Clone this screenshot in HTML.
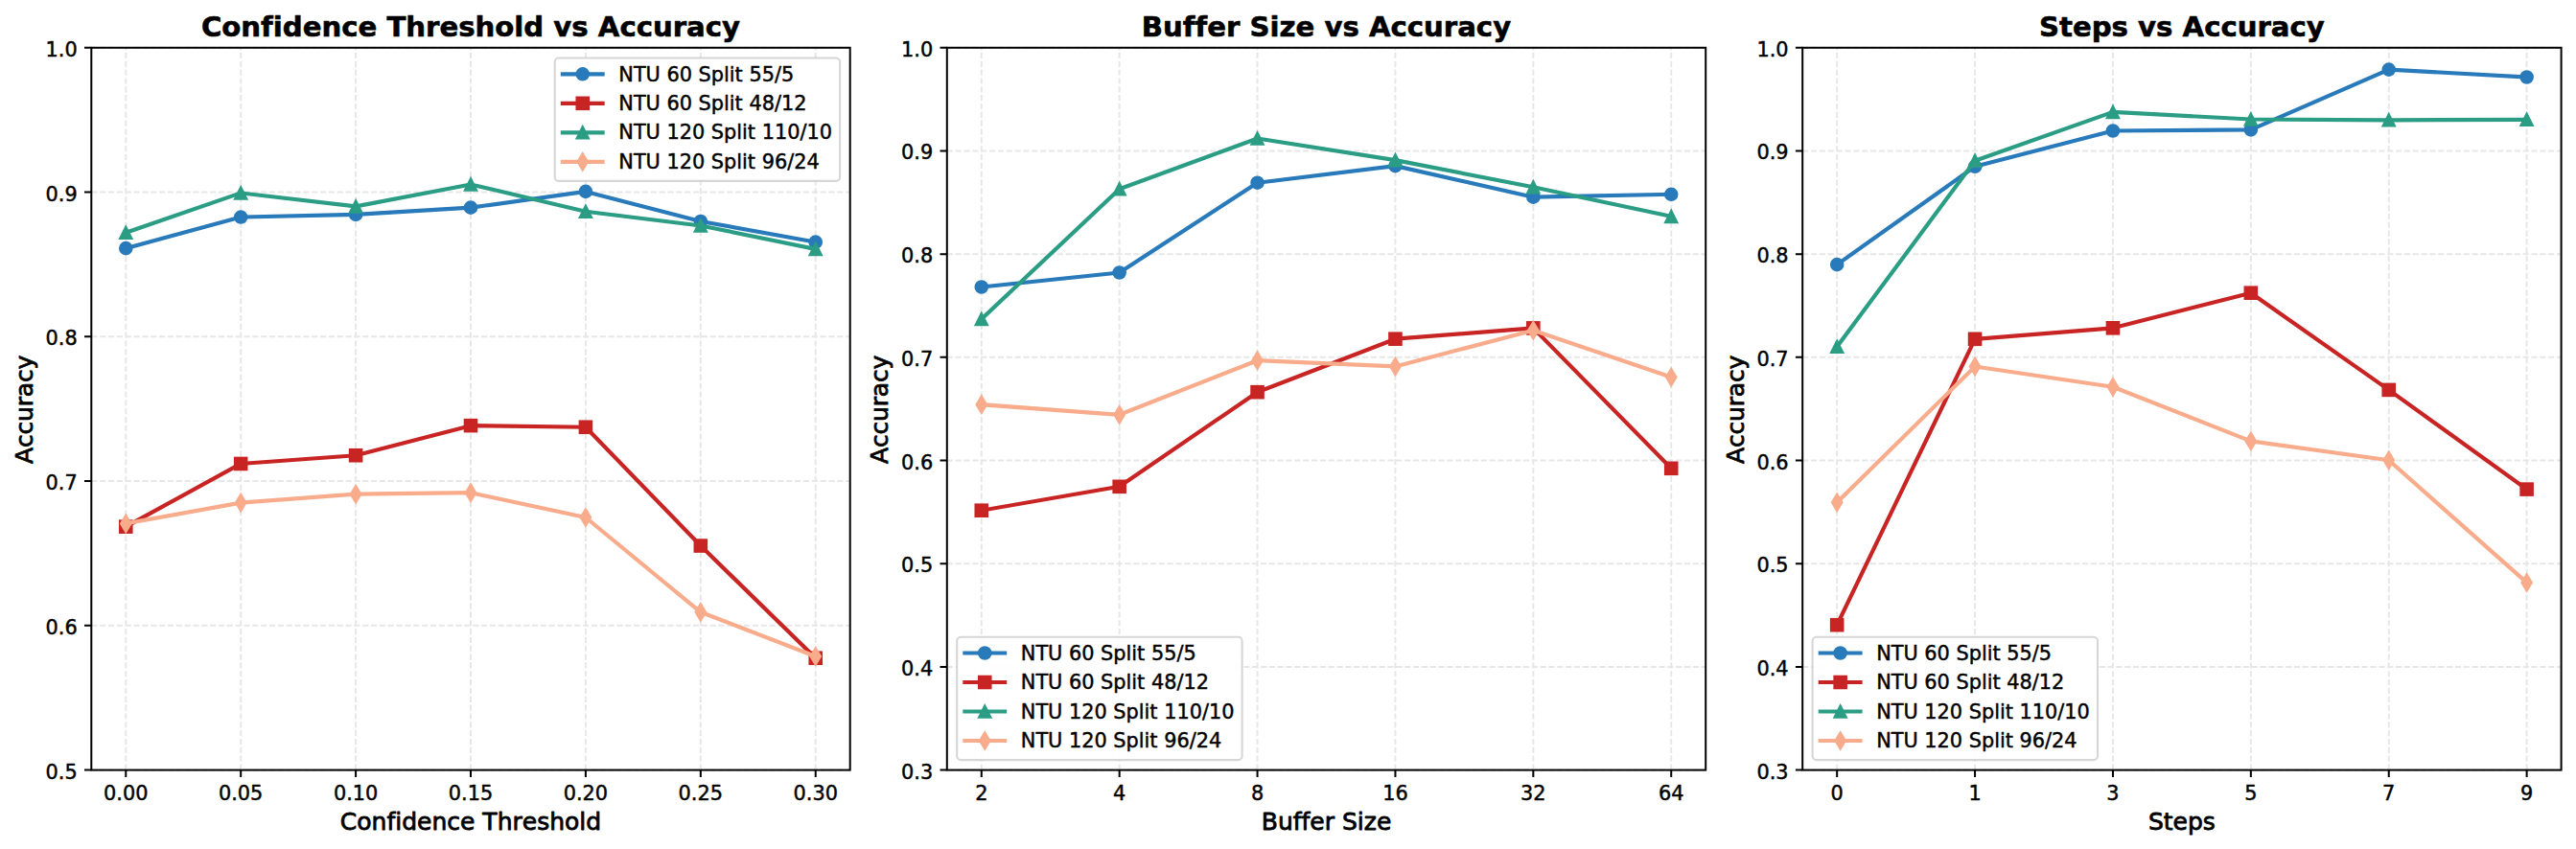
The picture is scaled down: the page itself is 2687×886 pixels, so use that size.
<!DOCTYPE html>
<html lang="en">
<head>
<meta charset="utf-8">
<title>Accuracy plots</title>
<style>
html,body{margin:0;padding:0;background:#fff;}
body{width:2687px;height:886px;overflow:hidden;}
svg{display:block;}
text{stroke:#000;stroke-width:.45px;stroke-linejoin:round;font-variant-ligatures:none;font-feature-settings:'liga' 0,'clig' 0;font-kerning:none;}
.tt{stroke-width:.6px;}
.al{stroke-width:.8px;}
</style>
</head>
<body>
<svg width="2687" height="886" viewBox="0 0 2687 886" font-family="'DejaVu Sans', 'Liberation Sans', sans-serif" fill="#000">
<rect width="2687" height="886" fill="#fff"/>
<g>
<path d="M131.27 803.6V49.8M251.18 803.6V49.8M371.09 803.6V49.8M491 803.6V49.8M610.91 803.6V49.8M730.82 803.6V49.8M850.73 803.6V49.8M95.3 803.6H886.7M95.3 652.84H886.7M95.3 502.08H886.7M95.3 351.32H886.7M95.3 200.56H886.7M95.3 49.8H886.7" fill="none" stroke="#b0b0b0" stroke-opacity="0.3" stroke-width="2" stroke-dasharray="6.17 2.67"/>
<polyline points="131.27,259.15 251.18,226.55 371.09,223.95 491,216.65 610.91,199.9 730.82,230.95 850.73,252.65" fill="none" stroke="#287ABA" stroke-width="4.17" stroke-linejoin="round" stroke-linecap="square"/>
<circle cx="131.27" cy="259.15" r="6.25" fill="#287ABA" stroke="#287ABA" stroke-width="2.08" stroke-linejoin="miter"/>
<circle cx="251.18" cy="226.55" r="6.25" fill="#287ABA" stroke="#287ABA" stroke-width="2.08" stroke-linejoin="miter"/>
<circle cx="371.09" cy="223.95" r="6.25" fill="#287ABA" stroke="#287ABA" stroke-width="2.08" stroke-linejoin="miter"/>
<circle cx="491" cy="216.65" r="6.25" fill="#287ABA" stroke="#287ABA" stroke-width="2.08" stroke-linejoin="miter"/>
<circle cx="610.91" cy="199.9" r="6.25" fill="#287ABA" stroke="#287ABA" stroke-width="2.08" stroke-linejoin="miter"/>
<circle cx="730.82" cy="230.95" r="6.25" fill="#287ABA" stroke="#287ABA" stroke-width="2.08" stroke-linejoin="miter"/>
<circle cx="850.73" cy="252.65" r="6.25" fill="#287ABA" stroke="#287ABA" stroke-width="2.08" stroke-linejoin="miter"/>
<polyline points="131.27,549.65 251.18,483.95 371.09,475.25 491,444.15 610.91,445.75 730.82,569.55 850.73,686.75" fill="none" stroke="#C82423" stroke-width="4.17" stroke-linejoin="round" stroke-linecap="square"/>
<rect x="125.02" y="543.4" width="12.5" height="12.5" fill="#C82423" stroke="#C82423" stroke-width="2.08" stroke-linejoin="miter"/>
<rect x="244.93" y="477.7" width="12.5" height="12.5" fill="#C82423" stroke="#C82423" stroke-width="2.08" stroke-linejoin="miter"/>
<rect x="364.84" y="469" width="12.5" height="12.5" fill="#C82423" stroke="#C82423" stroke-width="2.08" stroke-linejoin="miter"/>
<rect x="484.75" y="437.9" width="12.5" height="12.5" fill="#C82423" stroke="#C82423" stroke-width="2.08" stroke-linejoin="miter"/>
<rect x="604.66" y="439.5" width="12.5" height="12.5" fill="#C82423" stroke="#C82423" stroke-width="2.08" stroke-linejoin="miter"/>
<rect x="724.57" y="563.3" width="12.5" height="12.5" fill="#C82423" stroke="#C82423" stroke-width="2.08" stroke-linejoin="miter"/>
<rect x="844.48" y="680.5" width="12.5" height="12.5" fill="#C82423" stroke="#C82423" stroke-width="2.08" stroke-linejoin="miter"/>
<polyline points="131.27,242.8 251.18,201.4 371.09,215.35 491,192.45 610.91,220.8 730.82,235.45 850.73,259.95" fill="none" stroke="#2A9D84" stroke-width="4.17" stroke-linejoin="round" stroke-linecap="square"/>
<path d="M131.27 236.55L125.02 249.05L137.52 249.05Z" fill="#2A9D84" stroke="#2A9D84" stroke-width="2.08" stroke-linejoin="miter"/>
<path d="M251.18 195.15L244.93 207.65L257.43 207.65Z" fill="#2A9D84" stroke="#2A9D84" stroke-width="2.08" stroke-linejoin="miter"/>
<path d="M371.09 209.1L364.84 221.6L377.34 221.6Z" fill="#2A9D84" stroke="#2A9D84" stroke-width="2.08" stroke-linejoin="miter"/>
<path d="M491 186.2L484.75 198.7L497.25 198.7Z" fill="#2A9D84" stroke="#2A9D84" stroke-width="2.08" stroke-linejoin="miter"/>
<path d="M610.91 214.55L604.66 227.05L617.16 227.05Z" fill="#2A9D84" stroke="#2A9D84" stroke-width="2.08" stroke-linejoin="miter"/>
<path d="M730.82 229.2L724.57 241.7L737.07 241.7Z" fill="#2A9D84" stroke="#2A9D84" stroke-width="2.08" stroke-linejoin="miter"/>
<path d="M850.73 253.7L844.48 266.2L856.98 266.2Z" fill="#2A9D84" stroke="#2A9D84" stroke-width="2.08" stroke-linejoin="miter"/>
<polyline points="131.27,546.4 251.18,524.6 371.09,515.7 491,514.2 610.91,540 730.82,638.8 850.73,685" fill="none" stroke="#F8AC8C" stroke-width="4.17" stroke-linejoin="round" stroke-linecap="square"/>
<path d="M131.27 537.56L136.58 546.4L131.27 555.24L125.97 546.4Z" fill="#F8AC8C" stroke="#F8AC8C" stroke-width="2.08" stroke-linejoin="miter"/>
<path d="M251.18 515.76L256.49 524.6L251.18 533.44L245.88 524.6Z" fill="#F8AC8C" stroke="#F8AC8C" stroke-width="2.08" stroke-linejoin="miter"/>
<path d="M371.09 506.86L376.39 515.7L371.09 524.54L365.79 515.7Z" fill="#F8AC8C" stroke="#F8AC8C" stroke-width="2.08" stroke-linejoin="miter"/>
<path d="M491 505.36L496.3 514.2L491 523.04L485.7 514.2Z" fill="#F8AC8C" stroke="#F8AC8C" stroke-width="2.08" stroke-linejoin="miter"/>
<path d="M610.91 531.16L616.21 540L610.91 548.84L605.61 540Z" fill="#F8AC8C" stroke="#F8AC8C" stroke-width="2.08" stroke-linejoin="miter"/>
<path d="M730.82 629.96L736.12 638.8L730.82 647.64L725.51 638.8Z" fill="#F8AC8C" stroke="#F8AC8C" stroke-width="2.08" stroke-linejoin="miter"/>
<path d="M850.73 676.16L856.03 685L850.73 693.84L845.42 685Z" fill="#F8AC8C" stroke="#F8AC8C" stroke-width="2.08" stroke-linejoin="miter"/>
<path d="M131.27 803.6v7.29M251.18 803.6v7.29M371.09 803.6v7.29M491 803.6v7.29M610.91 803.6v7.29M730.82 803.6v7.29M850.73 803.6v7.29M95.3 803.6h-7.29M95.3 652.84h-7.29M95.3 502.08h-7.29M95.3 351.32h-7.29M95.3 200.56h-7.29M95.3 49.8h-7.29" fill="none" stroke="#000" stroke-width="2"/>
<rect x="95.3" y="49.8" width="791.4" height="753.8" fill="none" stroke="#000" stroke-width="2" stroke-linejoin="miter"/>
<g font-size="20.83">
<text x="131.27" y="834.6" text-anchor="middle">0.00</text>
<text x="251.18" y="834.6" text-anchor="middle">0.05</text>
<text x="371.09" y="834.6" text-anchor="middle">0.10</text>
<text x="491" y="834.6" text-anchor="middle">0.15</text>
<text x="610.91" y="834.6" text-anchor="middle">0.20</text>
<text x="730.82" y="834.6" text-anchor="middle">0.25</text>
<text x="850.73" y="834.6" text-anchor="middle">0.30</text>
<text x="80.72" y="812.6" text-anchor="end">0.5</text>
<text x="80.72" y="661.84" text-anchor="end">0.6</text>
<text x="80.72" y="511.08" text-anchor="end">0.7</text>
<text x="80.72" y="360.32" text-anchor="end">0.8</text>
<text x="80.72" y="209.56" text-anchor="end">0.9</text>
<text x="80.72" y="58.8" text-anchor="end">1.0</text>
</g>
<text x="491" y="38" text-anchor="middle" font-size="29.17" font-weight="bold" class="tt">Confidence Threshold vs Accuracy</text>
<text x="491" y="866.1" text-anchor="middle" font-size="25" class="al">Confidence Threshold</text>
<text transform="translate(33.7 427.35) rotate(-90)" text-anchor="middle" font-size="25" class="al" textLength="113.3" lengthAdjust="spacing">Accuracy</text>
<rect x="578.7" y="60.5" width="297.4" height="128.4" rx="4.2" ry="4.2" fill="#fff" fill-opacity="0.9" stroke="#ccc" stroke-opacity="0.8" stroke-width="2.08"/>
<g font-size="20.83">
<path d="M586.9 77.3H628.6" stroke="#287ABA" stroke-width="4.17" stroke-linecap="square" fill="none"/>
<circle cx="607.75" cy="77.3" r="6.25" fill="#287ABA" stroke="#287ABA" stroke-width="2.08" stroke-linejoin="miter"/>
<text x="645.3" y="84.75">NTU 60 Split 55/5</text>
<path d="M586.9 107.8H628.6" stroke="#C82423" stroke-width="4.17" stroke-linecap="square" fill="none"/>
<rect x="601.5" y="101.55" width="12.5" height="12.5" fill="#C82423" stroke="#C82423" stroke-width="2.08" stroke-linejoin="miter"/>
<text x="645.3" y="115.1">NTU 60 Split 48/12</text>
<path d="M586.9 138.3H628.6" stroke="#2A9D84" stroke-width="4.17" stroke-linecap="square" fill="none"/>
<path d="M607.75 132.05L601.5 144.55L614 144.55Z" fill="#2A9D84" stroke="#2A9D84" stroke-width="2.08" stroke-linejoin="miter"/>
<text x="645.3" y="145.45">NTU 120 Split 110/10</text>
<path d="M586.9 168.8H628.6" stroke="#F8AC8C" stroke-width="4.17" stroke-linecap="square" fill="none"/>
<path d="M607.75 159.96L613.05 168.8L607.75 177.64L602.45 168.8Z" fill="#F8AC8C" stroke="#F8AC8C" stroke-width="2.08" stroke-linejoin="miter"/>
<text x="645.3" y="175.8">NTU 120 Split 96/24</text>
</g>
</g>
<g>
<path d="M1023.77 803.6V49.8M1167.66 803.6V49.8M1311.55 803.6V49.8M1455.45 803.6V49.8M1599.34 803.6V49.8M1743.23 803.6V49.8M987.8 803.6H1779.2M987.8 695.91H1779.2M987.8 588.23H1779.2M987.8 480.54H1779.2M987.8 372.86H1779.2M987.8 265.17H1779.2M987.8 157.49H1779.2M987.8 49.8H1779.2" fill="none" stroke="#b0b0b0" stroke-opacity="0.3" stroke-width="2" stroke-dasharray="6.17 2.67"/>
<polyline points="1023.77,299.5 1167.66,284.5 1311.55,190.7 1455.45,173.1 1599.34,205.7 1743.23,202.8" fill="none" stroke="#287ABA" stroke-width="4.17" stroke-linejoin="round" stroke-linecap="square"/>
<circle cx="1023.77" cy="299.5" r="6.25" fill="#287ABA" stroke="#287ABA" stroke-width="2.08" stroke-linejoin="miter"/>
<circle cx="1167.66" cy="284.5" r="6.25" fill="#287ABA" stroke="#287ABA" stroke-width="2.08" stroke-linejoin="miter"/>
<circle cx="1311.55" cy="190.7" r="6.25" fill="#287ABA" stroke="#287ABA" stroke-width="2.08" stroke-linejoin="miter"/>
<circle cx="1455.45" cy="173.1" r="6.25" fill="#287ABA" stroke="#287ABA" stroke-width="2.08" stroke-linejoin="miter"/>
<circle cx="1599.34" cy="205.7" r="6.25" fill="#287ABA" stroke="#287ABA" stroke-width="2.08" stroke-linejoin="miter"/>
<circle cx="1743.23" cy="202.8" r="6.25" fill="#287ABA" stroke="#287ABA" stroke-width="2.08" stroke-linejoin="miter"/>
<polyline points="1023.77,532.7 1167.66,507.8 1311.55,409.2 1455.45,353.7 1599.34,342.4 1743.23,488.8" fill="none" stroke="#C82423" stroke-width="4.17" stroke-linejoin="round" stroke-linecap="square"/>
<rect x="1017.52" y="526.45" width="12.5" height="12.5" fill="#C82423" stroke="#C82423" stroke-width="2.08" stroke-linejoin="miter"/>
<rect x="1161.41" y="501.55" width="12.5" height="12.5" fill="#C82423" stroke="#C82423" stroke-width="2.08" stroke-linejoin="miter"/>
<rect x="1305.3" y="402.95" width="12.5" height="12.5" fill="#C82423" stroke="#C82423" stroke-width="2.08" stroke-linejoin="miter"/>
<rect x="1449.2" y="347.45" width="12.5" height="12.5" fill="#C82423" stroke="#C82423" stroke-width="2.08" stroke-linejoin="miter"/>
<rect x="1593.09" y="336.15" width="12.5" height="12.5" fill="#C82423" stroke="#C82423" stroke-width="2.08" stroke-linejoin="miter"/>
<rect x="1736.98" y="482.55" width="12.5" height="12.5" fill="#C82423" stroke="#C82423" stroke-width="2.08" stroke-linejoin="miter"/>
<polyline points="1023.77,333 1167.66,197.3 1311.55,144.5 1455.45,167.1 1599.34,195.3 1743.23,225.9" fill="none" stroke="#2A9D84" stroke-width="4.17" stroke-linejoin="round" stroke-linecap="square"/>
<path d="M1023.77 326.75L1017.52 339.25L1030.02 339.25Z" fill="#2A9D84" stroke="#2A9D84" stroke-width="2.08" stroke-linejoin="miter"/>
<path d="M1167.66 191.05L1161.41 203.55L1173.91 203.55Z" fill="#2A9D84" stroke="#2A9D84" stroke-width="2.08" stroke-linejoin="miter"/>
<path d="M1311.55 138.25L1305.3 150.75L1317.8 150.75Z" fill="#2A9D84" stroke="#2A9D84" stroke-width="2.08" stroke-linejoin="miter"/>
<path d="M1455.45 160.85L1449.2 173.35L1461.7 173.35Z" fill="#2A9D84" stroke="#2A9D84" stroke-width="2.08" stroke-linejoin="miter"/>
<path d="M1599.34 189.05L1593.09 201.55L1605.59 201.55Z" fill="#2A9D84" stroke="#2A9D84" stroke-width="2.08" stroke-linejoin="miter"/>
<path d="M1743.23 219.65L1736.98 232.15L1749.48 232.15Z" fill="#2A9D84" stroke="#2A9D84" stroke-width="2.08" stroke-linejoin="miter"/>
<polyline points="1023.77,422.2 1167.66,432.8 1311.55,376.2 1455.45,382.4 1599.34,344.8 1743.23,393.6" fill="none" stroke="#F8AC8C" stroke-width="4.17" stroke-linejoin="round" stroke-linecap="square"/>
<path d="M1023.77 413.36L1029.08 422.2L1023.77 431.04L1018.47 422.2Z" fill="#F8AC8C" stroke="#F8AC8C" stroke-width="2.08" stroke-linejoin="miter"/>
<path d="M1167.66 423.96L1172.97 432.8L1167.66 441.64L1162.36 432.8Z" fill="#F8AC8C" stroke="#F8AC8C" stroke-width="2.08" stroke-linejoin="miter"/>
<path d="M1311.55 367.36L1316.86 376.2L1311.55 385.04L1306.25 376.2Z" fill="#F8AC8C" stroke="#F8AC8C" stroke-width="2.08" stroke-linejoin="miter"/>
<path d="M1455.45 373.56L1460.75 382.4L1455.45 391.24L1450.14 382.4Z" fill="#F8AC8C" stroke="#F8AC8C" stroke-width="2.08" stroke-linejoin="miter"/>
<path d="M1599.34 335.96L1604.64 344.8L1599.34 353.64L1594.03 344.8Z" fill="#F8AC8C" stroke="#F8AC8C" stroke-width="2.08" stroke-linejoin="miter"/>
<path d="M1743.23 384.76L1748.53 393.6L1743.23 402.44L1737.92 393.6Z" fill="#F8AC8C" stroke="#F8AC8C" stroke-width="2.08" stroke-linejoin="miter"/>
<path d="M1023.77 803.6v7.29M1167.66 803.6v7.29M1311.55 803.6v7.29M1455.45 803.6v7.29M1599.34 803.6v7.29M1743.23 803.6v7.29M987.8 803.6h-7.29M987.8 695.91h-7.29M987.8 588.23h-7.29M987.8 480.54h-7.29M987.8 372.86h-7.29M987.8 265.17h-7.29M987.8 157.49h-7.29M987.8 49.8h-7.29" fill="none" stroke="#000" stroke-width="2"/>
<rect x="987.8" y="49.8" width="791.4" height="753.8" fill="none" stroke="#000" stroke-width="2" stroke-linejoin="miter"/>
<g font-size="20.83">
<text x="1023.77" y="834.6" text-anchor="middle">2</text>
<text x="1167.66" y="834.6" text-anchor="middle">4</text>
<text x="1311.55" y="834.6" text-anchor="middle">8</text>
<text x="1455.45" y="834.6" text-anchor="middle">16</text>
<text x="1599.34" y="834.6" text-anchor="middle">32</text>
<text x="1743.23" y="834.6" text-anchor="middle">64</text>
<text x="973.22" y="812.6" text-anchor="end">0.3</text>
<text x="973.22" y="704.91" text-anchor="end">0.4</text>
<text x="973.22" y="597.23" text-anchor="end">0.5</text>
<text x="973.22" y="489.54" text-anchor="end">0.6</text>
<text x="973.22" y="381.86" text-anchor="end">0.7</text>
<text x="973.22" y="274.17" text-anchor="end">0.8</text>
<text x="973.22" y="166.49" text-anchor="end">0.9</text>
<text x="973.22" y="58.8" text-anchor="end">1.0</text>
</g>
<text x="1383.5" y="38" text-anchor="middle" font-size="29.17" font-weight="bold" class="tt">Buffer Size vs Accuracy</text>
<text x="1383.5" y="866.1" text-anchor="middle" font-size="25" class="al">Buffer Size</text>
<text transform="translate(926.2 427.35) rotate(-90)" text-anchor="middle" font-size="25" class="al" textLength="113.3" lengthAdjust="spacing">Accuracy</text>
<rect x="998.2" y="664.7" width="297.4" height="128.4" rx="4.2" ry="4.2" fill="#fff" fill-opacity="0.9" stroke="#ccc" stroke-opacity="0.8" stroke-width="2.08"/>
<g font-size="20.83">
<path d="M1006.4 681.5H1048.1" stroke="#287ABA" stroke-width="4.17" stroke-linecap="square" fill="none"/>
<circle cx="1027.25" cy="681.5" r="6.25" fill="#287ABA" stroke="#287ABA" stroke-width="2.08" stroke-linejoin="miter"/>
<text x="1064.8" y="688.95">NTU 60 Split 55/5</text>
<path d="M1006.4 712H1048.1" stroke="#C82423" stroke-width="4.17" stroke-linecap="square" fill="none"/>
<rect x="1021" y="705.75" width="12.5" height="12.5" fill="#C82423" stroke="#C82423" stroke-width="2.08" stroke-linejoin="miter"/>
<text x="1064.8" y="719.3">NTU 60 Split 48/12</text>
<path d="M1006.4 742.5H1048.1" stroke="#2A9D84" stroke-width="4.17" stroke-linecap="square" fill="none"/>
<path d="M1027.25 736.25L1021 748.75L1033.5 748.75Z" fill="#2A9D84" stroke="#2A9D84" stroke-width="2.08" stroke-linejoin="miter"/>
<text x="1064.8" y="749.65">NTU 120 Split 110/10</text>
<path d="M1006.4 773H1048.1" stroke="#F8AC8C" stroke-width="4.17" stroke-linecap="square" fill="none"/>
<path d="M1027.25 764.16L1032.55 773L1027.25 781.84L1021.95 773Z" fill="#F8AC8C" stroke="#F8AC8C" stroke-width="2.08" stroke-linejoin="miter"/>
<text x="1064.8" y="780">NTU 120 Split 96/24</text>
</g>
</g>
<g>
<path d="M1916.17 803.6V49.8M2060.06 803.6V49.8M2203.95 803.6V49.8M2347.85 803.6V49.8M2491.74 803.6V49.8M2635.63 803.6V49.8M1880.2 803.6H2671.6M1880.2 695.91H2671.6M1880.2 588.23H2671.6M1880.2 480.54H2671.6M1880.2 372.86H2671.6M1880.2 265.17H2671.6M1880.2 157.49H2671.6M1880.2 49.8H2671.6" fill="none" stroke="#b0b0b0" stroke-opacity="0.3" stroke-width="2" stroke-dasharray="6.17 2.67"/>
<polyline points="1916.17,276.1 2060.06,173.8 2203.95,136.5 2347.85,135.4 2491.74,72.6 2635.63,80.5" fill="none" stroke="#287ABA" stroke-width="4.17" stroke-linejoin="round" stroke-linecap="square"/>
<circle cx="1916.17" cy="276.1" r="6.25" fill="#287ABA" stroke="#287ABA" stroke-width="2.08" stroke-linejoin="miter"/>
<circle cx="2060.06" cy="173.8" r="6.25" fill="#287ABA" stroke="#287ABA" stroke-width="2.08" stroke-linejoin="miter"/>
<circle cx="2203.95" cy="136.5" r="6.25" fill="#287ABA" stroke="#287ABA" stroke-width="2.08" stroke-linejoin="miter"/>
<circle cx="2347.85" cy="135.4" r="6.25" fill="#287ABA" stroke="#287ABA" stroke-width="2.08" stroke-linejoin="miter"/>
<circle cx="2491.74" cy="72.6" r="6.25" fill="#287ABA" stroke="#287ABA" stroke-width="2.08" stroke-linejoin="miter"/>
<circle cx="2635.63" cy="80.5" r="6.25" fill="#287ABA" stroke="#287ABA" stroke-width="2.08" stroke-linejoin="miter"/>
<polyline points="1916.17,652.2 2060.06,353.8 2203.95,342.3 2347.85,305.7 2491.74,406.9 2635.63,510.6" fill="none" stroke="#C82423" stroke-width="4.17" stroke-linejoin="round" stroke-linecap="square"/>
<rect x="1909.92" y="645.95" width="12.5" height="12.5" fill="#C82423" stroke="#C82423" stroke-width="2.08" stroke-linejoin="miter"/>
<rect x="2053.81" y="347.55" width="12.5" height="12.5" fill="#C82423" stroke="#C82423" stroke-width="2.08" stroke-linejoin="miter"/>
<rect x="2197.7" y="336.05" width="12.5" height="12.5" fill="#C82423" stroke="#C82423" stroke-width="2.08" stroke-linejoin="miter"/>
<rect x="2341.6" y="299.45" width="12.5" height="12.5" fill="#C82423" stroke="#C82423" stroke-width="2.08" stroke-linejoin="miter"/>
<rect x="2485.49" y="400.65" width="12.5" height="12.5" fill="#C82423" stroke="#C82423" stroke-width="2.08" stroke-linejoin="miter"/>
<rect x="2629.38" y="504.35" width="12.5" height="12.5" fill="#C82423" stroke="#C82423" stroke-width="2.08" stroke-linejoin="miter"/>
<polyline points="1916.17,361.8 2060.06,167.7 2203.95,116.9 2347.85,124.5 2491.74,125.3 2635.63,124.8" fill="none" stroke="#2A9D84" stroke-width="4.17" stroke-linejoin="round" stroke-linecap="square"/>
<path d="M1916.17 355.55L1909.92 368.05L1922.42 368.05Z" fill="#2A9D84" stroke="#2A9D84" stroke-width="2.08" stroke-linejoin="miter"/>
<path d="M2060.06 161.45L2053.81 173.95L2066.31 173.95Z" fill="#2A9D84" stroke="#2A9D84" stroke-width="2.08" stroke-linejoin="miter"/>
<path d="M2203.95 110.65L2197.7 123.15L2210.2 123.15Z" fill="#2A9D84" stroke="#2A9D84" stroke-width="2.08" stroke-linejoin="miter"/>
<path d="M2347.85 118.25L2341.6 130.75L2354.1 130.75Z" fill="#2A9D84" stroke="#2A9D84" stroke-width="2.08" stroke-linejoin="miter"/>
<path d="M2491.74 119.05L2485.49 131.55L2497.99 131.55Z" fill="#2A9D84" stroke="#2A9D84" stroke-width="2.08" stroke-linejoin="miter"/>
<path d="M2635.63 118.55L2629.38 131.05L2641.88 131.05Z" fill="#2A9D84" stroke="#2A9D84" stroke-width="2.08" stroke-linejoin="miter"/>
<polyline points="1916.17,524.3 2060.06,382.5 2203.95,403.8 2347.85,460.4 2491.74,480.3 2635.63,608" fill="none" stroke="#F8AC8C" stroke-width="4.17" stroke-linejoin="round" stroke-linecap="square"/>
<path d="M1916.17 515.46L1921.48 524.3L1916.17 533.14L1910.87 524.3Z" fill="#F8AC8C" stroke="#F8AC8C" stroke-width="2.08" stroke-linejoin="miter"/>
<path d="M2060.06 373.66L2065.37 382.5L2060.06 391.34L2054.76 382.5Z" fill="#F8AC8C" stroke="#F8AC8C" stroke-width="2.08" stroke-linejoin="miter"/>
<path d="M2203.95 394.96L2209.26 403.8L2203.95 412.64L2198.65 403.8Z" fill="#F8AC8C" stroke="#F8AC8C" stroke-width="2.08" stroke-linejoin="miter"/>
<path d="M2347.85 451.56L2353.15 460.4L2347.85 469.24L2342.54 460.4Z" fill="#F8AC8C" stroke="#F8AC8C" stroke-width="2.08" stroke-linejoin="miter"/>
<path d="M2491.74 471.46L2497.04 480.3L2491.74 489.14L2486.43 480.3Z" fill="#F8AC8C" stroke="#F8AC8C" stroke-width="2.08" stroke-linejoin="miter"/>
<path d="M2635.63 599.16L2640.93 608L2635.63 616.84L2630.32 608Z" fill="#F8AC8C" stroke="#F8AC8C" stroke-width="2.08" stroke-linejoin="miter"/>
<path d="M1916.17 803.6v7.29M2060.06 803.6v7.29M2203.95 803.6v7.29M2347.85 803.6v7.29M2491.74 803.6v7.29M2635.63 803.6v7.29M1880.2 803.6h-7.29M1880.2 695.91h-7.29M1880.2 588.23h-7.29M1880.2 480.54h-7.29M1880.2 372.86h-7.29M1880.2 265.17h-7.29M1880.2 157.49h-7.29M1880.2 49.8h-7.29" fill="none" stroke="#000" stroke-width="2"/>
<rect x="1880.2" y="49.8" width="791.4" height="753.8" fill="none" stroke="#000" stroke-width="2" stroke-linejoin="miter"/>
<g font-size="20.83">
<text x="1916.17" y="834.6" text-anchor="middle">0</text>
<text x="2060.06" y="834.6" text-anchor="middle">1</text>
<text x="2203.95" y="834.6" text-anchor="middle">3</text>
<text x="2347.85" y="834.6" text-anchor="middle">5</text>
<text x="2491.74" y="834.6" text-anchor="middle">7</text>
<text x="2635.63" y="834.6" text-anchor="middle">9</text>
<text x="1865.62" y="812.6" text-anchor="end">0.3</text>
<text x="1865.62" y="704.91" text-anchor="end">0.4</text>
<text x="1865.62" y="597.23" text-anchor="end">0.5</text>
<text x="1865.62" y="489.54" text-anchor="end">0.6</text>
<text x="1865.62" y="381.86" text-anchor="end">0.7</text>
<text x="1865.62" y="274.17" text-anchor="end">0.8</text>
<text x="1865.62" y="166.49" text-anchor="end">0.9</text>
<text x="1865.62" y="58.8" text-anchor="end">1.0</text>
</g>
<text x="2275.9" y="38" text-anchor="middle" font-size="29.17" font-weight="bold" class="tt">Steps vs Accuracy</text>
<text x="2275.9" y="866.1" text-anchor="middle" font-size="25" class="al">Steps</text>
<text transform="translate(1818.6 427.35) rotate(-90)" text-anchor="middle" font-size="25" class="al" textLength="113.3" lengthAdjust="spacing">Accuracy</text>
<rect x="1890.6" y="664.7" width="297.4" height="128.4" rx="4.2" ry="4.2" fill="#fff" fill-opacity="0.9" stroke="#ccc" stroke-opacity="0.8" stroke-width="2.08"/>
<g font-size="20.83">
<path d="M1898.8 681.5H1940.5" stroke="#287ABA" stroke-width="4.17" stroke-linecap="square" fill="none"/>
<circle cx="1919.65" cy="681.5" r="6.25" fill="#287ABA" stroke="#287ABA" stroke-width="2.08" stroke-linejoin="miter"/>
<text x="1957.2" y="688.95">NTU 60 Split 55/5</text>
<path d="M1898.8 712H1940.5" stroke="#C82423" stroke-width="4.17" stroke-linecap="square" fill="none"/>
<rect x="1913.4" y="705.75" width="12.5" height="12.5" fill="#C82423" stroke="#C82423" stroke-width="2.08" stroke-linejoin="miter"/>
<text x="1957.2" y="719.3">NTU 60 Split 48/12</text>
<path d="M1898.8 742.5H1940.5" stroke="#2A9D84" stroke-width="4.17" stroke-linecap="square" fill="none"/>
<path d="M1919.65 736.25L1913.4 748.75L1925.9 748.75Z" fill="#2A9D84" stroke="#2A9D84" stroke-width="2.08" stroke-linejoin="miter"/>
<text x="1957.2" y="749.65">NTU 120 Split 110/10</text>
<path d="M1898.8 773H1940.5" stroke="#F8AC8C" stroke-width="4.17" stroke-linecap="square" fill="none"/>
<path d="M1919.65 764.16L1924.95 773L1919.65 781.84L1914.35 773Z" fill="#F8AC8C" stroke="#F8AC8C" stroke-width="2.08" stroke-linejoin="miter"/>
<text x="1957.2" y="780">NTU 120 Split 96/24</text>
</g>
</g>
</svg>
</body>
</html>
